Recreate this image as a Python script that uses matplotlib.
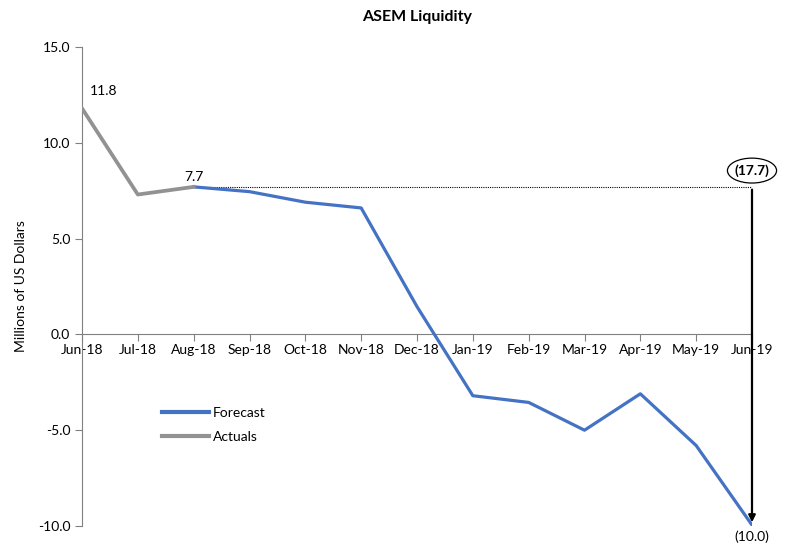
import matplotlib
matplotlib.use("Agg")
import matplotlib.pyplot as plt
from matplotlib.patches import Ellipse

plt.rcParams['font.family'] = ['Lato', 'DejaVu Sans']

months = ["Jun-18", "Jul-18", "Aug-18", "Sep-18", "Oct-18", "Nov-18", "Dec-18",
          "Jan-19", "Feb-19", "Mar-19", "Apr-19", "May-19", "Jun-19"]
actuals = [11.8, 7.3, 7.7]
forecast = [7.7, 7.45, 6.9, 6.6, 1.45, -3.2, -3.55, -5.0, -3.1, -5.8, -9.95]
yticks = [-10.0, -5.0, 0.0, 5.0, 10.0, 15.0]
gap_label = "(17.7)"
end_label = "(10.0)"

fs = 10
fig = plt.figure(figsize=(7.86, 5.44), dpi=100)
ax = fig.add_axes([82/786, 1-526/544, (752-82)/786, (526-47)/544])

x_act = list(range(len(actuals)))
x_fc = list(range(len(actuals)-1, len(actuals)-1+len(forecast)))

ax.plot(x_fc, forecast, color="#4472C4", lw=2.3, label="Forecast", zorder=3)
ax.plot(x_act, actuals, color="#929292", lw=2.7, label="Actuals", zorder=4)

ax.set_xlim(0, len(months)-1)
ax.set_ylim(-10, 15)
ax.set_yticks(yticks)
ax.set_yticklabels([f"{v:.1f}" for v in yticks], fontsize=fs)
ax.set_xticks(range(len(months)))
ax.set_xticklabels(months, fontsize=fs)

for s in ["top", "right"]:
    ax.spines[s].set_visible(False)
ax.spines["bottom"].set_position(("data", 0))
ax.spines["left"].set_color("#808080")
ax.spines["bottom"].set_color("#808080")
ax.tick_params(axis="both", colors="#808080", labelcolor="black", length=5)
ax.tick_params(axis="x", pad=2)

ax.set_ylabel("Millions of US Dollars", fontsize=fs, labelpad=8)
ax.set_title("ASEM Liquidity", fontsize=11.5, fontweight="bold", pad=19)

# data labels
ax.annotate(f"{actuals[0]:.1f}", (0, actuals[0]), xytext=(6, 8), textcoords="offset points",
            fontsize=fs, ha="left", va="bottom")
ax.annotate(f"{actuals[-1]:.1f}", (2, actuals[-1]), xytext=(0, 3), textcoords="offset points",
            fontsize=fs, ha="center", va="bottom")

# dotted reference line and arrow
last = len(months)-1
ax.plot([2, last], [actuals[-1], actuals[-1]], color="black", lw=0.8, ls=(0, (1, 1)), zorder=2)
ax.annotate("", xy=(last, forecast[-1]), xytext=(last, actuals[-1]),
            arrowprops=dict(arrowstyle="-|>", color="black", lw=1.6, mutation_scale=10),
            annotation_clip=False, zorder=5)
ax.text(last, 8.55, gap_label, fontsize=fs, fontweight="bold", ha="center", va="center",
        zorder=6, clip_on=False)
ell = Ellipse((last, 8.55), width=0.88, height=1.3, fc="white", ec="black", lw=0.9,
              clip_on=False, zorder=5)
ax.add_patch(ell)
ax.text(last, -10.55, end_label, fontsize=fs, ha="center", va="center", clip_on=False)

leg = ax.legend(loc="upper left", bbox_to_anchor=(0.1, 0.275), frameon=False, fontsize=fs,
                handlelength=3.4, labelspacing=0.85, handletextpad=0.3)
for h in leg.get_lines():
    h.set_linewidth(3)

fig.savefig("out.png", dpi=100)
